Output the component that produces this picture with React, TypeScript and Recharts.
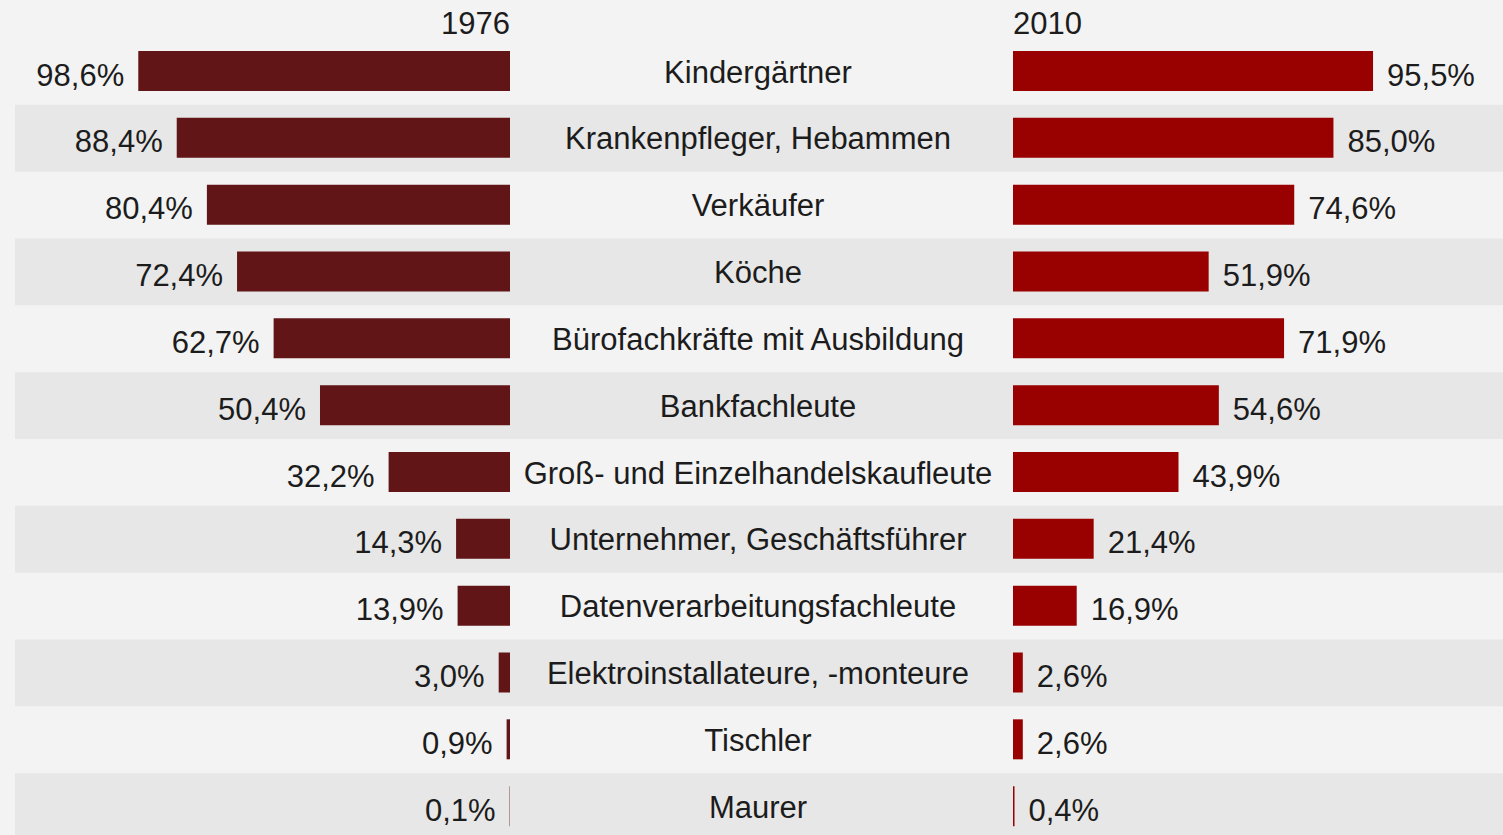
import React from 'react';
import { BarChart, Bar, XAxis, YAxis, ReferenceArea, ReferenceLine, LabelList } from 'recharts';

// Berufe, Frauenanteil 1976 vs. 2010
const categories = [
  'Kindergärtner',
  'Krankenpfleger, Hebammen',
  'Verkäufer',
  'Köche',
  'Bürofachkräfte mit Ausbildung',
  'Bankfachleute',
  'Groß- und Einzelhandelskaufleute',
  'Unternehmer, Geschäftsführer',
  'Datenverarbeitungsfachleute',
  'Elektroinstallateure, -monteure',
  'Tischler',
  'Maurer',
];
const values1976 = [98.6, 88.4, 80.4, 72.4, 62.7, 50.4, 32.2, 14.3, 13.9, 3.0, 0.9, 0.1];
const values2010 = [95.5, 85.0, 74.6, 51.9, 71.9, 54.6, 43.9, 21.4, 16.9, 2.6, 2.6, 0.4];
const years = ['1976', '2010'];

const W = 1503;
const H = 840;
const PLOT_LEFT = 15;
const PX_PER_PCT = 3.77;
const LEFT_ZERO = 510;
const RIGHT_ZERO = 1013;
const MID_X = 758;

const FONT = '"Liberation Sans", Arial, sans-serif';
const FS = 31;
const TEXT = '#1c1c1c';
const BG = '#f3f3f3';
const STRIPE = '#e7e7e7';
const DARK = '#611517';
const RED = '#990000';

const data = categories.map((name, i) => ({
  name,
  v1976: -values1976[i],
  v2010: values2010[i],
}));

const leftDomain = [-(LEFT_ZERO - PLOT_LEFT) / PX_PER_PCT, (W - LEFT_ZERO) / PX_PER_PCT];
const rightDomain = [-(RIGHT_ZERO - PLOT_LEFT) / PX_PER_PCT, (W - RIGHT_ZERO) / PX_PER_PCT];

const fmt = (v: number) => Math.abs(v).toFixed(1).replace('.', ',') + '%';

const CenterName = (props: any) => {
  const { y, height, value } = props;
  return (
    <text x={MID_X} y={y + height / 2 + 1} textAnchor="middle" dominantBaseline="central" fontSize={FS} fontFamily={FONT} fill={TEXT}>
      {value}
    </text>
  );
};

const LeftValue = (props: any) => {
  const { x, y, width, height, value } = props;
  const left = Math.min(x, x + width);
  return (
    <text x={left - 14} y={y + height / 2 + 4} textAnchor="end" dominantBaseline="central" fontSize={FS} fontFamily={FONT} fill={TEXT}>
      {fmt(value)}
    </text>
  );
};

const RightValue = (props: any) => {
  const { x, y, width, height, value } = props;
  const right = Math.max(x, x + width);
  return (
    <text x={right + 14} y={y + height / 2 + 4} textAnchor="start" dominantBaseline="central" fontSize={FS} fontFamily={FONT} fill={TEXT}>
      {fmt(value)}
    </text>
  );
};

const YearLabel = ({ viewBox, text, anchor }: any) => {
  const top = viewBox ? viewBox.y : 38;
  return (
    <text x={viewBox.x} y={top - 15} textAnchor={anchor} dominantBaseline="central" fontSize={FS} fontFamily={FONT} fill={TEXT}>
      {text}
    </text>
  );
};

export default function App() {
  return (
    <div style={{ position: 'absolute', left: 0, top: 0, width: W, height: 835, overflow: 'hidden', background: BG }}>
      <BarChart
        width={W}
        height={H}
        data={data}
        layout="vertical"
        margin={{ top: 38, right: 0, bottom: 0, left: PLOT_LEFT }}
      >
        <XAxis xAxisId="l" type="number" domain={leftDomain} hide allowDataOverflow />
        <XAxis xAxisId="r" type="number" domain={rightDomain} hide allowDataOverflow />
        <YAxis yAxisId="a" type="category" dataKey="name" hide />
        <YAxis yAxisId="b" type="category" dataKey="name" hide />
        {categories.map((c, i) =>
          i % 2 === 1 ? (
            <ReferenceArea
              key={c}
              xAxisId="l"
              yAxisId="a"
              y1={c}
              y2={c}
              fill={STRIPE}
              fillOpacity={1}
              stroke="none"
              ifOverflow="visible"
            />
          ) : null
        )}
        <ReferenceLine
          xAxisId="l"
          yAxisId="a"
          x={0}
          stroke="none"
          label={<YearLabel text={years[0]} anchor="end" />}
        />
        <ReferenceLine
          xAxisId="r"
          yAxisId="a"
          x={0}
          stroke="none"
          label={<YearLabel text={years[1]} anchor="start" />}
        />
        <Bar xAxisId="l" yAxisId="a" dataKey="v1976" fill={DARK} barSize={40} isAnimationActive={false}>
          <LabelList dataKey="v1976" content={<LeftValue />} />
        </Bar>
        <Bar xAxisId="r" yAxisId="b" dataKey="v2010" fill={RED} barSize={40} isAnimationActive={false}>
          <LabelList dataKey="v2010" content={<RightValue />} />
          <LabelList dataKey="name" content={<CenterName />} />
        </Bar>
      </BarChart>
    </div>
  );
}
